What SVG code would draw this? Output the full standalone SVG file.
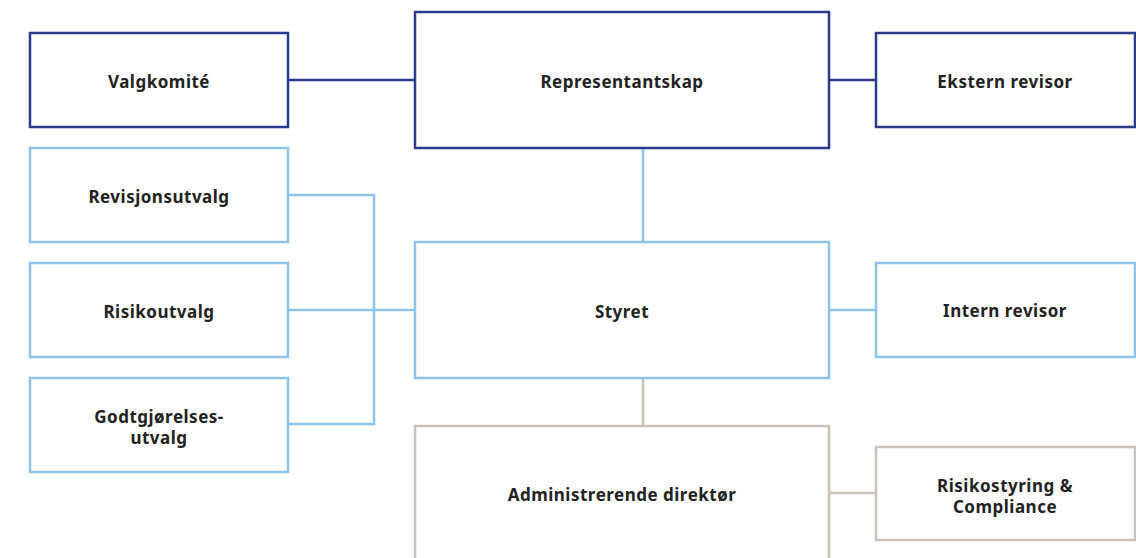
<svg xmlns="http://www.w3.org/2000/svg" width="1136" height="558" viewBox="0 0 1136 558">
<style>
.n{fill:#fff;stroke-width:2.5}
.d{stroke:#2c3b8c}
.b{stroke:#8ec4ec}
.t{stroke:#cbc1b6}
text{font-family:"Noto Sans","Liberation Sans",sans-serif;font-weight:700;font-size:17px;letter-spacing:0.5px;fill:#222;text-anchor:middle}
.c{fill:none;stroke-width:2.5}
</style>
<rect width="1136" height="558" fill="#fff"/>
<g id="connectors">
<path class="c d" d="M288 80H415M829 80H876"/>
<path class="c b" d="M643 148V242M288 195H374V424H288M288 310H415M829 310H876"/>
<path class="c t" d="M643 378V426M829 493H876"/>
</g>
<g id="valgkomite"><rect class="n d" x="30" y="33" width="258" height="94"/><text x="159" y="88">Valgkomité</text></g>
<g id="representantskap"><rect class="n d" x="415" y="12" width="414" height="136"/><text x="622" y="88">Representantskap</text></g>
<g id="ekstern"><rect class="n d" x="876" y="33" width="259" height="94"/><text x="1005" y="88">Ekstern revisor</text></g>
<g id="revisjonsutvalg"><rect class="n b" x="30" y="148" width="258" height="94"/><text x="159" y="203">Revisjonsutvalg</text></g>
<g id="risikoutvalg"><rect class="n b" x="30" y="263" width="258" height="94"/><text x="159" y="318">Risikoutvalg</text></g>
<g id="godtgjorelse"><rect class="n b" x="30" y="378" width="258" height="94"/><text x="159" y="423">Godtgjørelses-</text><text x="159" y="444">utvalg</text></g>
<g id="styret"><rect class="n b" x="415" y="242" width="414" height="136"/><text x="622" y="318">Styret</text></g>
<g id="intern"><rect class="n b" x="876" y="263" width="259" height="94"/><text x="1005" y="317">Intern revisor</text></g>
<g id="admin"><rect class="n t" x="415" y="426" width="414" height="150"/><text x="622" y="501">Administrerende direktør</text></g>
<g id="risikostyring"><rect class="n t" x="876" y="447" width="259" height="93"/><text x="1005" y="492">Risikostyring &amp;</text><text x="1005" y="513">Compliance</text></g>
</svg>
